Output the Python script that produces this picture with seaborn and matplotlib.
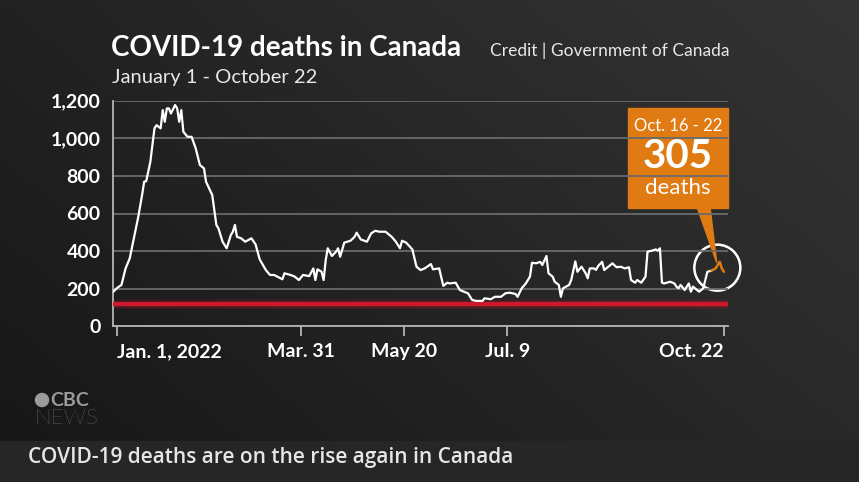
import numpy as np
import pandas as pd
import seaborn as sns
import matplotlib.pyplot as plt
from matplotlib.patches import Rectangle, Circle, Polygon

# values (day 0 = Jan. 1, 2022)
start = pd.Timestamp("2022-01-01")
day_offsets = [-2, 0, 2, 4, 6, 8, 10, 12, 13, 14, 16, 17, 18, 19, 21, 22, 23, 24, 25, 26,
               28, 29, 30, 31, 32, 34, 36, 38, 40, 42, 43, 46, 48, 49, 51, 53, 55, 56, 57, 58,
               60, 62, 65, 67, 69, 72, 74, 76, 80, 81, 84, 86, 88, 90, 93, 95, 96, 97, 99, 100,
               101, 102, 104, 106, 107, 108, 110, 113, 115, 116, 118, 121, 123, 125, 127, 130, 131, 133, 135, 137,
               138, 140, 143, 145, 147, 149, 152, 153, 156, 158, 160, 161, 164, 166, 168, 170, 172, 174, 177, 178,
               181, 183, 186, 188, 190, 193, 194, 196, 198, 200, 201, 203, 205, 206, 208, 209, 211, 212, 214, 215,
               216, 219, 220, 222, 223, 225, 227, 228, 229, 231, 232, 233, 235, 236, 238, 240, 242, 244, 246, 248,
               249, 251, 252, 254, 256, 257, 259, 261, 262, 263, 264, 265, 268, 270, 271, 272, 273, 275, 277, 278,
               279, 281, 282, 284, 285, 286, 288, 290, 291, 292, 293, 294]
deaths = [184, 205, 220, 308, 361, 468, 574, 698, 769, 772, 875, 964, 1053, 1070, 1053, 1150, 1088, 1159, 1159, 1132,
          1177, 1159, 1088, 1150, 1035, 1008, 1008, 946, 858, 840, 769, 698, 539, 521, 450, 415, 485, 503, 539, 476,
          468, 450, 468, 436, 356, 299, 273, 273, 250, 282, 273, 264, 246, 273, 267, 308, 246, 303, 290, 246,
          352, 415, 374, 397, 415, 370, 445, 455, 476, 498, 462, 450, 494, 508, 503, 503, 494, 476, 450, 415,
          455, 445, 409, 317, 299, 308, 331, 303, 308, 215, 232, 228, 232, 193, 184, 175, 140, 135, 135, 149,
          144, 157, 157, 175, 179, 172, 157, 202, 228, 264, 338, 335, 343, 326, 374, 282, 264, 237, 220, 157,
          202, 220, 246, 345, 290, 317, 282, 255, 308, 308, 300, 320, 343, 299, 317, 335, 314, 317, 308, 314,
          246, 232, 246, 232, 264, 397, 402, 409, 402, 415, 232, 228, 237, 228, 211, 202, 220, 193, 228, 184,
          211, 193, 184, 202, 246, 290, 296, 308, 326, 343, 308, 290]
recent_from = 288          # Oct. 16
baseline = 120             # red reference line
y_ticks = [0, 200, 400, 600, 800, 1000, 1200]
y_labels = ["0", "200", "400", "600", "800", "1,000", "1,200"]
x_tick_dates = ["2022-01-01", "2022-03-31", "2022-05-20", "2022-07-09", "2022-10-22"]
x_tick_labels = ["Jan. 1, 2022", "Mar. 31", "May 20", "Jul. 9", "Oct. 22"]

df = pd.DataFrame({"day": day_offsets, "deaths": deaths})
recent = df[df["day"] >= recent_from]
week_total = 305

ORANGE = "#e07a12"
RED = "#d0182c"
GRID = "#6a6a6a"
AXIS = "#b5b5b5"

sns.set_theme(style="dark")
plt.rcParams["font.family"] = ["Lato", "DejaVu Sans"]

W, H = 859, 482
fig = plt.figure(figsize=(W / 100, H / 100), dpi=100)

# background
bg = fig.add_axes([0, 0, 1, 1], zorder=0)
xx, yy = np.meshgrid(np.linspace(0, 1, 200), np.linspace(0, 1, 120))
shade = (22 + 18 * xx + 12 * (1 - yy)) / 255
bg.imshow(np.dstack([shade, shade, shade]), extent=[0, W, H, 0], aspect="auto")
bg.add_patch(Rectangle((0, 441), W, 41, color="#262626"))
bg.set_xlim(0, W)
bg.set_ylim(H, 0)
bg.axis("off")

# chart
ax = fig.add_axes([113 / W, 155.7 / H, 615 / W, 225.6 / H], zorder=2)
ax.set_facecolor("none")
for w, a in [(7.5, 0.10), (5, 0.22)]:
    ax.axhline(baseline, color=RED, lw=w, alpha=a, zorder=2)
ax.axhline(baseline, color=RED, lw=3, zorder=3)
sns.lineplot(data=df[df["day"] <= recent_from], x="day", y="deaths", ax=ax,
             color="white", lw=1.6, zorder=4)
sns.lineplot(data=recent, x="day", y="deaths", ax=ax, color=ORANGE, lw=1.8, zorder=5)

ax.set_xlim(-2.1, 296)
ax.set_ylim(0, 1200)
ax.set_yticks(y_ticks)
ax.set_yticklabels(y_labels)
tick_days = [(pd.Timestamp(d) - start).days for d in x_tick_dates]
ax.set_xticks(tick_days)
ax.set_xticklabels(x_tick_labels)
for lbl, ha in zip(ax.get_xticklabels(), ["left", "center", "center", "center", "right"]):
    lbl.set_ha(ha)
ax.set_xlabel("")
ax.set_ylabel("")
ax.yaxis.grid(True, color=GRID, lw=1.3)
ax.xaxis.grid(False)
ax.set_axisbelow(True)
ax.tick_params(axis="y", length=0, pad=9, labelsize=14, labelcolor="white")
ax.tick_params(axis="x", length=7, width=1.3, color=AXIS, pad=5, labelsize=14,
               labelcolor="white", direction="out", bottom=True)
for lbl in ax.get_xticklabels() + ax.get_yticklabels():
    lbl.set_fontweight("bold")
for side in ["top", "right"]:
    ax.spines[side].set_visible(False)
for side in ["left", "bottom"]:
    ax.spines[side].set_visible(True)
    ax.spines[side].set_color(AXIS)
    ax.spines[side].set_linewidth(1.3)

# callout anchored on the latest week
def to_bg(x, y):
    px, py = ax.transData.transform((x, y))
    return px, H - py

peak = recent.loc[recent["deaths"].idxmax()]
tip = to_bg(peak["day"], peak["deaths"])
center = to_bg(recent["day"].mean() - 0.5, recent["deaths"].mean())
bg.add_patch(Circle(center, 23, fill=False, ec="white", lw=1.8, zorder=5))
bg.add_patch(Polygon([(697, 207), (710, 207), (tip[0] - 3, tip[1] + 1)], color=ORANGE, zorder=6))
bg.add_patch(Rectangle((628, 108), 100, 100, color=ORANGE, zorder=6))
bg.text(678, 126, "Oct. 16 - 22", color="white", fontsize=12, ha="center", va="center", zorder=7)
bg.text(678, 156, f"{week_total}", color="white", fontsize=29, fontweight="bold",
        ha="center", va="center", zorder=7)
bg.text(678, 188, "deaths", color="white", fontsize=16, ha="center", va="center", zorder=7)

# titles
bg.text(111, 48, "COVID-19 deaths in Canada", color="white", fontsize=20, fontweight="bold",
        ha="left", va="center")
bg.text(112, 78, "January 1 - October 22", color="#e8e8e8", fontsize=14.5, ha="left", va="center")
bg.text(730, 51, "Credit | Government of Canada", color="#e8e8e8", fontsize=12.5, ha="right", va="center")

# logo and caption
bg.add_patch(Circle((42, 400), 6.5, color="#9c9c9c"))
bg.text(50, 400, "CBC", color="#9c9c9c", fontsize=14, fontweight="bold", ha="left", va="center")
bg.text(34, 418, "NEWS", color="#9c9c9c", fontsize=16, fontweight="light", ha="left", va="center")
bg.text(28, 457, "COVID-19 deaths are on the rise again in Canada", color="#e6e6e6",
        fontsize=15, fontweight="semibold", ha="left", va="center",
        family=["Open Sans", "DejaVu Sans"])

fig.savefig("out.png", dpi=100)
